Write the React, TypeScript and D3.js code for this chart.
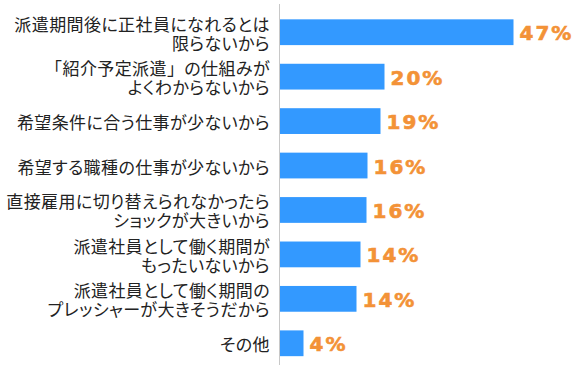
import React from "react";
import * as d3 from "d3";

const categories: string[] = [
  "派遣期間後に正社員になれるとは\n限らないから",
  "「紹介予定派遣」の仕組みが\nよくわからないから",
  "希望条件に合う仕事が少ないから",
  "希望する職種の仕事が少ないから",
  "直接雇用に切り替えられなかったら\nショックが大きいから",
  "派遣社員として働く期間が\nもったいないから",
  "派遣社員として働く期間の\nプレッシャーが大きそうだから",
  "その他",
];

// bar lengths as drawn (percent)
const barValues: number[] = [46.7, 20.9, 20.1, 17.5, 17.3, 16.1, 15.3, 4.7];
// value labels as printed
const labelValues: number[] = [47, 20, 19, 16, 16, 14, 14, 4];

const W = 579;
const H = 372;
const X0 = 280;

function segments(s: string) {
  const out: { t: string; b: boolean }[] = [];
  for (const ch of s) {
    const b = ch === "「" || ch === "」";
    if (out.length && out[out.length - 1].b === b) out[out.length - 1].t += ch;
    else out.push({ t: ch, b });
  }
  return out;
}

export default function App() {
  const x = d3.scaleLinear().domain([0, 50]).range([X0, X0 + 250]);
  const y = d3
    .scaleBand<string>()
    .domain(categories)
    .range([10, 365.5])
    .paddingInner(0.42)
    .paddingOuter(0.21);
  const bw = y.bandwidth();

  return (
    <svg
      width={W}
      height={H}
      style={{ position: "absolute", left: 0, top: 0, background: "#fff" }}
    >
      {categories.map((c, i) => {
        const y0 = y(c)!;
        const cy = y0 + bw / 2;
        const lines = c.split("\n");
        const lh = 19;
        const xEnd = x(barValues[i]);
        return (
          <g key={c}>
            <rect
              x={x(0)}
              y={y0}
              width={xEnd - x(0)}
              height={bw}
              fill="#3399FF"
            />
            {lines.map((ln, j) => (
              <text
                key={j}
                x={270}
                y={cy + (j - (lines.length - 1) / 2) * lh}
                textAnchor="end"
                dominantBaseline="central"
                fontFamily="'Noto Sans CJK JP', sans-serif"
                fontSize={17}
                letterSpacing={0.4}
                fill="#222"
              >
                {segments(ln).map((sg, k) => (
                  <tspan
                    key={k}
                    style={{ fontFeatureSettings: sg.b ? "normal" : "'palt'" }}
                  >
                    {sg.t}
                  </tspan>
                ))}
              </text>
            ))}
            <text
              x={xEnd + 6}
              y={cy + 1}
              dominantBaseline="central"
              fontFamily="'DejaVu Sans', Verdana, sans-serif"
              fontWeight="bold"
              fontSize={20}
              letterSpacing={2}
              fill="#F39237"
              stroke="#F39237"
              strokeWidth={0.6}
            >
              {labelValues[i]}%
            </text>
          </g>
        );
      })}
      <line x1={279.5} x2={279.5} y1={4} y2={365} stroke="#C8C8C8" strokeWidth={1} />
    </svg>
  );
}
